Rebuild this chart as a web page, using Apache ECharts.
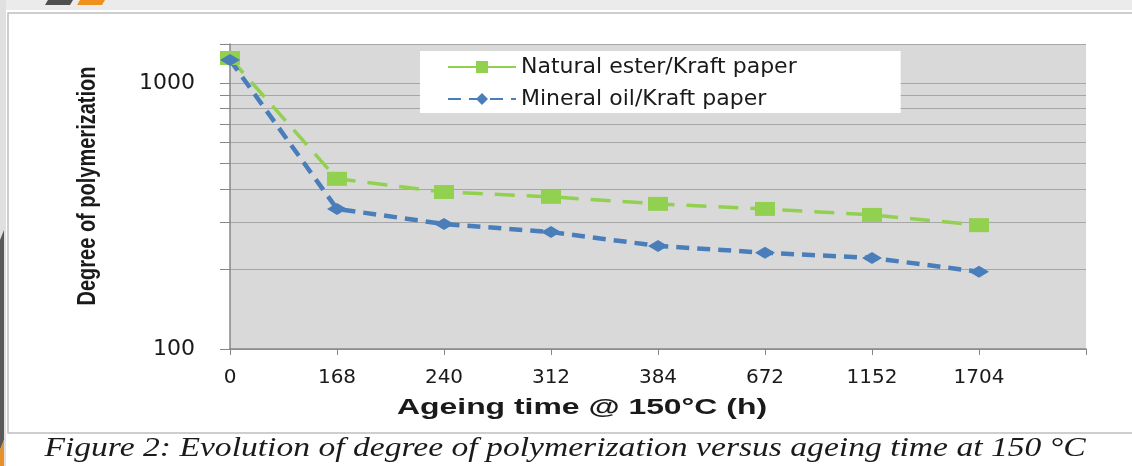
<!DOCTYPE html>
<html><head><meta charset="utf-8">
<script src="https://cdn.jsdelivr.net/npm/echarts@6/dist/echarts.min.js"></script>
<style>html,body{margin:0;padding:0;background:#fff}#c{width:1132px;height:466px}</style>
</head><body><div id="c"></div>
<script>
const categories = ['0', '168', '240', '312', '384', '672', '1152', '1704', ''];
const naturalEster = [1240, 436, 389, 373, 351, 336, 319, 292];
const mineralOil = [1220, 336, 295, 275, 244, 230, 220, 195];
const yTickValues = [100, 200, 300, 400, 500, 600, 700, 800, 900, 1000, 1400];
const yLabelValues = [100, 1000];
const seriesNames = ['Natural ester/Kraft paper', 'Mineral oil/Kraft paper'];
const xTitle = 'Ageing time @ 150°C (h)';
const yTitle = 'Degree of polymerization';
const caption = 'Figure 2: Evolution of degree of polymerization versus ageing time at 150 °C';

const chart = echarts.init(document.getElementById('c'));
const option = {
  animation: false,
  backgroundColor: '#ffffff',
  grid: { left: 230, right: 46, top: 44, bottom: 117, show: true, backgroundColor: '#d9d9d9', borderWidth: 0 },
  legend: {
    left: 420, top: 51, orient: 'vertical', backgroundColor: '#ffffff',
    padding: [5, 104, 3, 27], itemWidth: 68, itemHeight: 15, itemGap: 10,
    textStyle: { fontSize: 22, fontFamily: 'DejaVu Sans', color: '#1a1a1a' },
    data: [
      { name: seriesNames[0], lineStyle: { type: 'solid' } },
      { name: seriesNames[1] }
    ]
  },
  xAxis: {
    type: 'category', data: categories, boundaryGap: false,
    axisLine: { lineStyle: { color: '#868686', width: 1.5 } },
    axisTick: { show: true, interval: 0, length: 6, lineStyle: { color: '#868686' } },
    axisLabel: { interval: 0, fontSize: 20, fontFamily: 'DejaVu Sans', color: '#1a1a1a', margin: 19 },
    splitLine: { show: false }
  },
  yAxis: {
    type: 'log', logBase: 10, min: 100, max: 1400,
    axisLine: { show: true, lineStyle: { color: '#868686', width: 1.5 } },
    axisTick: { show: true, length: 10, customValues: yTickValues, lineStyle: { color: '#868686' } },
    axisLabel: { customValues: yLabelValues, formatter: v => String(v), fontSize: 22, fontFamily: 'DejaVu Sans', color: '#1a1a1a', margin: 35 },
    splitLine: { show: true, customValues: yTickValues, lineStyle: { color: '#a6a6a6', width: 1 } }
  },
  series: [
    {
      name: seriesNames[0], type: 'line', data: naturalEster,
      symbol: 'rect', symbolSize: [20, 14],
      itemStyle: { color: '#92d050' },
      lineStyle: { color: '#92d050', width: 3.5, type: [20, 12] }
    },
    {
      name: seriesNames[1], type: 'line', data: mineralOil,
      symbol: 'diamond', symbolSize: [20, 12],
      itemStyle: { color: '#4a7ebb' },
      lineStyle: { color: '#4a7ebb', width: 4.5, type: [13, 8] }
    }
  ],
  graphic: [
    { type: 'rect', z: -10, shape: { x: 0, y: 0, width: 1132, height: 10 }, style: { fill: '#ebebeb' } },
    { type: 'rect', z: -10, shape: { x: 0, y: 0, width: 6, height: 466 }, style: { fill: '#e0e0e0' } },
    { type: 'polygon', z: -9, shape: { points: [[0, 240], [4, 230], [4, 440], [0, 450]] }, style: { fill: '#595959' } },
    { type: 'polygon', z: -9, shape: { points: [[0, 450], [4, 440], [4, 466], [0, 466]] }, style: { fill: '#e8912a' } },
    { type: 'polygon', z: -9, shape: { points: [[45, 5], [48, 0], [73, 0], [70, 5]] }, style: { fill: '#505050' } },
    { type: 'polygon', z: -9, shape: { points: [[77, 5], [80, 0], [105, 0], [102, 5]] }, style: { fill: '#f0901e' } },
    { type: 'polyline', z: -8, shape: { points: [[1132, 13], [8, 13], [8, 433], [1132, 433]] }, style: { stroke: '#bfbfbf', lineWidth: 1.5, fill: null } },
    { type: 'text', x: 582, y: 408, scaleX: 1.45, style: { text: xTitle, font: "bold 22px 'Liberation Sans', sans-serif", fill: '#1a1a1a', textAlign: 'center', textVerticalAlign: 'middle' } },
    { type: 'text', x: 88, y: 186, rotation: Math.PI / 2, scaleX: 0.8, style: { text: yTitle, font: "bold 25px 'Liberation Sans', sans-serif", fill: '#1a1a1a', textAlign: 'center', textVerticalAlign: 'middle' } },
    { type: 'text', x: 565, y: 449, scaleX: 1.2, style: { text: caption, font: "italic 28px 'Liberation Serif', 'Times New Roman', serif", fill: '#1a1a1a', textAlign: 'center', textVerticalAlign: 'middle' } }
  ]
};
chart.setOption(option);
</script>
</body></html>
